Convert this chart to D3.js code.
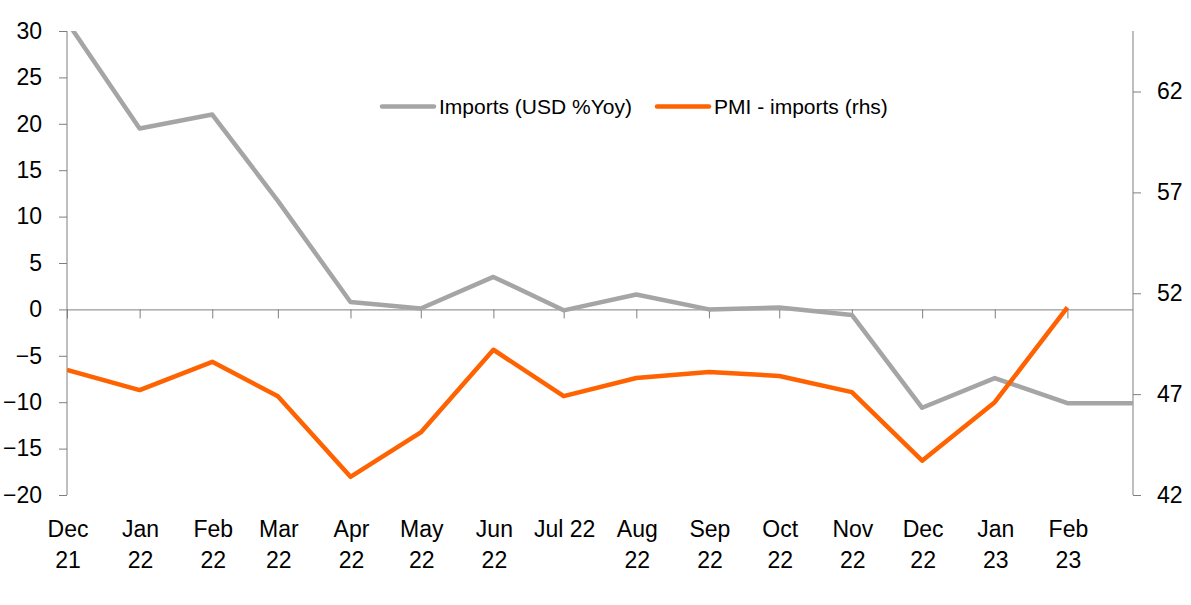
<!DOCTYPE html>
<html>
<head>
<meta charset="utf-8">
<script src="https://cdn.jsdelivr.net/npm/d3@7"></script>
<style>
  body { margin: 0; background: #fff; }
  svg { display: block; font-family: "Liberation Sans", Arial, sans-serif; }
</style>
</head>
<body>
<svg id="chart"></svg>
<script>
// monthly data, Dec 21 .. Mar 23
const months = ["2021-12", "2022-01", "2022-02", "2022-03", "2022-04", "2022-05", "2022-06", "2022-07",
  "2022-08", "2022-09", "2022-10", "2022-11", "2022-12", "2023-01", "2023-02", "2023-03"];
const xLabels = ["Dec\n21", "Jan\n22", "Feb\n22", "Mar\n22", "Apr\n22", "May\n22", "Jun\n22", "Jul 22",
  "Aug\n22", "Sep\n22", "Oct\n22", "Nov\n22", "Dec\n22", "Jan\n23", "Feb\n23"];
const importsYoy = [31, 19.5, 21.0, 11.7, 0.8, 0.1, 3.5, -0.1, 1.6, 0.0, 0.2, -0.6, -10.6, -7.4, -10.1, -10.1];
const pmiImports = [48.2, 47.2, 48.6, 46.9, 42.9, 45.1, 49.2, 46.9, 47.8, 48.1, 47.9, 47.1, 43.7, 46.6, 51.3];
const leftTicks = [30, 25, 20, 15, 10, 5, 0, -5, -10, -15, -20];
const rightTicks = [42, 47, 52, 57, 62];
const seriesNames = ["Imports (USD %Yoy)", "PMI - imports (rhs)"];

(function() {
  const width = 1191, height = 605;
  const plot = {left: 67, right: 1133, top: 31, bottom: 495};
  const grey = "#a5a5a5", orange = "#ff6200", axisCol = "#7f7f7f";

  const parse = d3.timeParse("%Y-%m");
  const dates = months.map(parse);

  const svg = d3.select("#chart").attr("width", width).attr("height", height);

  const x = d3.scaleTime()
    .domain([dates[0], dates[dates.length - 1]])
    .range([plot.left, plot.right]);
  const yL = d3.scaleLinear().domain([-20, 30]).range([plot.bottom, plot.top]);
  const yR = d3.scaleLinear().domain([42, 65]).range([plot.bottom, plot.top]);

  svg.append("defs").append("clipPath").attr("id", "plotClip")
    .append("rect")
    .attr("x", plot.left).attr("y", plot.top)
    .attr("width", plot.right - plot.left).attr("height", plot.bottom - plot.top);

  // left axis
  const leftAxis = svg.append("g")
    .attr("transform", `translate(${plot.left},0)`)
    .call(d3.axisLeft(yL).tickValues(leftTicks).tickSize(8).tickPadding(17).tickSizeOuter(0));
  // right axis
  const rightAxis = svg.append("g")
    .attr("transform", `translate(${plot.right},0)`)
    .call(d3.axisRight(yR).tickValues(rightTicks).tickSize(8).tickPadding(16).tickSizeOuter(0));
  [leftAxis, rightAxis].forEach(a => {
    a.select(".domain").attr("stroke", axisCol).attr("d", null)
      .attr("d", `M0,${plot.top}V${plot.bottom}`);
    a.selectAll(".tick line").attr("stroke", axisCol);
    a.selectAll(".tick text").attr("font-size", 23).attr("fill", "#000");
  });

  // x axis sits on zero
  const xAxis = svg.append("g")
    .attr("transform", `translate(0,${yL(0)})`)
    .call(d3.axisBottom(x).tickValues(dates.slice(0, xLabels.length)).tickSize(9).tickFormat(""));
  xAxis.select(".domain").attr("stroke", axisCol).attr("d", `M${plot.left},0.5H${plot.right}`);
  xAxis.selectAll(".tick line").attr("stroke", axisCol);

  // x labels below the plot
  svg.append("g").selectAll("text")
    .data(xLabels)
    .join("text")
    .attr("x", (d, i) => x(dates[i]) + 1)
    .attr("y", 537)
    .attr("text-anchor", "middle")
    .attr("font-size", 23)
    .attr("fill", "#000")
    .each(function(d) {
      const lines = d.split("\n");
      d3.select(this).selectAll("tspan")
        .data(lines)
        .join("tspan")
        .attr("x", d3.select(this).attr("x"))
        .attr("dy", (l, j) => j === 0 ? 0 : 31)
        .text(l => l);
    });

  const lines = svg.append("g").attr("clip-path", "url(#plotClip)");

  lines.append("path")
    .datum(importsYoy)
    .attr("fill", "none")
    .attr("stroke", grey)
    .attr("stroke-width", 4.5)
    .attr("stroke-linejoin", "round")
    .attr("d", d3.line().x((d, i) => x(dates[i])).y(d => yL(d)));

  lines.append("path")
    .datum(pmiImports)
    .attr("fill", "none")
    .attr("stroke", orange)
    .attr("stroke-width", 4.5)
    .attr("stroke-linejoin", "round")
    .attr("d", d3.line().x((d, i) => x(dates[i])).y(d => yR(d)));

  // legend
  const legend = svg.append("g").attr("font-size", 21).attr("fill", "#000");
  const legendItems = [
    {name: seriesNames[0], color: grey, x: 382},
    {name: seriesNames[1], color: orange, x: 657}
  ];
  legendItems.forEach(it => {
    legend.append("line")
      .attr("x1", it.x).attr("x2", it.x + 52)
      .attr("y1", 106.5).attr("y2", 106.5)
      .attr("stroke", it.color).attr("stroke-width", 4.5).attr("stroke-linecap", "round");
    legend.append("text")
      .attr("x", it.x + 57)
      .attr("y", 114)
      .text(it.name);
  });
})();
</script>
</body>
</html>
